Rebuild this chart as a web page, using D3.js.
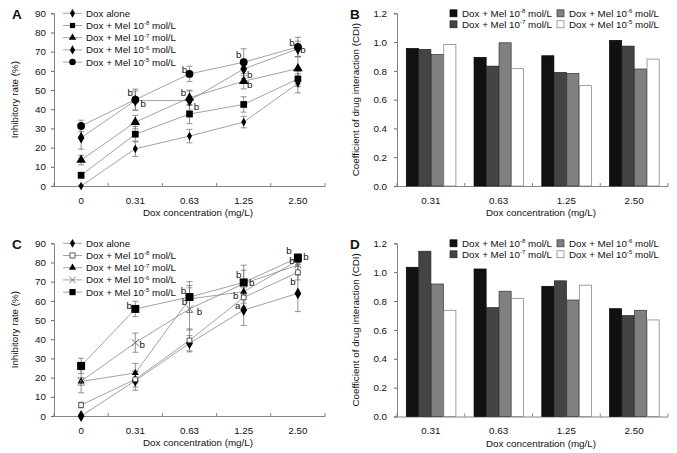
<!DOCTYPE html>
<html><head><meta charset="utf-8">
<script src="https://cdn.jsdelivr.net/npm/d3@7"></script>
<style>body{margin:0;background:#fff}svg{display:block;font-family:"Liberation Sans",Arial,sans-serif}</style>
</head><body><svg id="c" width="677" height="453"></svg>
<script>
// ---------- DATA ----------
const doseCats = ["0", "0.31", "0.63", "1.25", "2.50"];
const cdiCats = ["0.31", "0.63", "1.25", "2.50"];
const seriesLabels = ["Dox alone", "-8", "-7", "-6", "-5"]; // Mel exponents
const cdiSeries = ["-8", "-7", "-6", "-5"];

// Panel A: inhibitory rate (%)
const aDoxAlone = [0, 19.4, 26, 33.3, 53.5];
const aMel8 = [5.6, 27, 37.5, 42.5, 55.8];
const aMel7 = [13.5, 33.3, 46, 54.6, 61.2];
const aMel6 = [25.2, 44.5, 44.5, 61, 71.5];
const aMel5 = [31.3, 45, 58.4, 64.5, 72.5];
const aErrDoxAlone = [0.5, 4, 3.5, 3, 5];
const aErrMel8 = [1.5, 4, 5, 4, 4];
const aErrMel7 = [2.5, 3.5, 4, 4, 6];
const aErrMel6 = [6, 5, 5, 5, 4];
const aErrMel5 = [3, 5.5, 4, 7, 5];
const aNotes = [[1,48.4,-5,"b"],[1,42.4,8,"b"],[2,60.2,-5,"b"],[2,48.4,-6,"b"],[2,41.2,7,"b"],[3,68.2,-5,"b"],[3,57.8,6,"b"],[3,52.4,6,"b"],[4,74.2,-6,"b"],[4,70.8,5,"b"]];

// Panel C
const cDoxAlone = [0, 18.4, 37.9, 55.2, 63.9];
const cMel8 = [5.7, 19.1, 39.4, 61.8, 74.9];
const cMel7 = [18, 22.4, 61, 64.8, 81];
const cMel6 = [18.1, 38.2, 55.8, 69, 78.7];
const cMel5 = [26.1, 55.8, 62, 69.6, 82.5];
const cErrDoxAlone = [0.5, 5, 4, 8, 9.5];
const cErrMel8 = [1.5, 4, 6, 5, 4];
const cErrMel7 = [2, 5, 7, 6, 3];
const cErrMel6 = [6, 5, 11, 7, 4];
const cErrMel5 = [4, 4, 8, 9, 2];
const cNotes = [[1,56.9,-6,"b"],[1,37,7,"b"],[2,65.1,-6,"b"],[2,59,-5,"b"],[2,53.8,10,"b"],[3,73.4,-5,"b"],[3,69.1,8,"b"],[3,62.5,-8,"b"],[3,56.9,-6,"a"],[4,85.6,-9,"b"],[4,82.7,8,"b"],[4,80.4,-6,"b"],[4,69.5,-5,"b"]];

// Panel B / D: coefficient of drug interaction
const bMel8 = [0.956, 0.894, 0.905, 1.012];
const bMel7 = [0.949, 0.833, 0.789, 0.972];
const bMel6 = [0.914, 0.995, 0.782, 0.813];
const bMel5 = [0.984, 0.815, 0.697, 0.882];
const dMel8 = [1.034, 1.022, 0.902, 0.747];
const dMel7 = [1.145, 0.754, 0.94, 0.699];
const dMel6 = [0.918, 0.868, 0.807, 0.736];
const dMel5 = [0.736, 0.819, 0.91, 0.669];

const lineTicks = [0,10,20,30,40,50,60,70,80,90];
const barTicks = [0,0.2,0.4,0.6,0.8,1.0,1.2];

// ---------- DRAW ----------
const svg = d3.select("#c");
const FS = 9.8;
const axisCol = "#666";
const txtCol = "#111";

function addLabel(sel, exp) {
  if (exp === "Dox alone") { sel.text("Dox alone"); return; }
  sel.append("tspan").text("Dox + Mel 10");
  sel.append("tspan").attr("font-size", 6).attr("dy", -3.5).text(exp);
  sel.append("tspan").attr("dy", 3.5).text(" mol/L");
}

function markerPath(type, k) {
  k = k || 1;
  const s = d3.symbol();
  switch (type) {
    case "dsmall": return s.type(d3.symbolDiamond).size(22 * k)();
    case "diamond": return s.type(d3.symbolDiamond).size(40 * k)();
    case "square": return s.type(d3.symbolSquare).size(45 * k)();
    case "bigsquare": return s.type(d3.symbolSquare).size(64 * k)();
    case "osquare": return s.type(d3.symbolSquare).size(22 * k)();
    case "triangle": return s.type(d3.symbolTriangle).size(40 * k)();
    case "tsmall": return s.type(d3.symbolTriangle).size(22 * k)();
    case "circle": return s.type(d3.symbolCircle).size(48 * k)();
    case "x": { const r = 3.5 * Math.sqrt(k); return `M${-r},${-r}L${r},${r}M${-r},${r}L${r},${-r}`; }
  }
}
function markerStyle(sel, type) {
  if (type === "osquare") sel.attr("fill", "#fff").attr("stroke", "#333").attr("stroke-width", 0.8);
  else if (type === "x") sel.attr("fill", "none").attr("stroke", "#666").attr("stroke-width", 0.9);
  else sel.attr("fill", "#000");
}

function styleAxis(a) {
  a.select(".domain").attr("stroke", axisCol).attr("stroke-width", 0.8);
  a.selectAll(".tick line").attr("stroke", axisCol);
  a.selectAll("text").attr("font-size", FS).attr("font-family", "Liberation Sans, Arial").attr("fill", txtCol);
}

function linePanel(cfg) {
  const x = d3.scaleBand().domain(doseCats).range([cfg.left, cfg.right]);
  const y = d3.scaleLinear().domain([0, 90]).range([cfg.bottom, cfg.top]);
  const cx = c => x(c) + x.bandwidth() / 2;
  const g = svg.append("g");
  const ya = g.append("g").attr("transform", `translate(${cfg.left},0)`)
    .call(d3.axisLeft(y).tickValues(lineTicks).tickSize(3).tickPadding(5));
  const xa = g.append("g").attr("transform", `translate(0,${cfg.bottom})`)
    .call(d3.axisBottom(x).tickSize(0).tickPadding(11));
  styleAxis(ya); styleAxis(xa);
  const bounds = doseCats.map(c => x(c)).concat([cfg.right]);
  g.selectAll(".bt").data(bounds).join("line")
    .attr("x1", d => d).attr("x2", d => d).attr("y1", cfg.bottom).attr("y2", cfg.bottom - 3)
    .attr("stroke", axisCol).attr("stroke-width", 0.8);
  cfg.series.forEach(s => {
    const pts = s.vals.map((v, i) => [cx(doseCats[i]), y(v)]);
    g.append("path").attr("d", d3.line()(pts)).attr("fill", "none").attr("stroke", "#8a8a8a").attr("stroke-width", 0.8);
  });
  cfg.series.forEach(s => {
    s.vals.forEach((v, i) => {
      const X = cx(doseCats[i]), e = s.err[i];
      const y1 = y(v + e), y2 = y(Math.max(0, v - e));
      g.append("line").attr("x1", X).attr("x2", X).attr("y1", y1).attr("y2", y2).attr("stroke", "#777").attr("stroke-width", 0.8);
      [y1, y2].forEach(yy => g.append("line").attr("x1", X - 3).attr("x2", X + 3).attr("y1", yy).attr("y2", yy).attr("stroke", "#777").attr("stroke-width", 0.8));
    });
  });
  cfg.series.forEach(s => {
    s.vals.forEach((v, i) => {
      g.append("path").attr("d", markerPath(s.m)).attr("transform", `translate(${cx(doseCats[i])},${y(v)})`).call(markerStyle, s.m);
    });
  });
  cfg.notes.forEach(n => {
    g.append("text").attr("x", cx(doseCats[n[0]]) + n[2]).attr("y", y(n[1]))
      .attr("text-anchor", "middle").attr("dominant-baseline", "middle")
      .attr("font-size", FS).attr("fill", txtCol).text(n[3]);
  });
  cfg.series.forEach((s, i) => {
    const ly = cfg.top + i * 12.2;
    g.append("line").attr("x1", 63).attr("x2", 82).attr("y1", ly).attr("y2", ly).attr("stroke", "#8a8a8a").attr("stroke-width", 0.8);
    g.append("path").attr("d", markerPath(s.m, s.lk || 1)).attr("transform", `translate(72.5,${ly})`).call(markerStyle, s.m);
    g.append("text").attr("x", 86).attr("y", ly).attr("dy", "0.35em").attr("font-size", FS).attr("fill", txtCol).call(addLabel, s.label);
  });
  g.append("text").attr("x", 198).attr("y", cfg.bottom + 27).attr("dy", "0.35em").attr("text-anchor", "middle")
    .attr("font-size", FS).attr("fill", txtCol).text("Dox concentration (mg/L)");
  g.append("text").attr("transform", `translate(15,${(cfg.top + cfg.bottom) / 2}) rotate(-90)`).attr("dy", "0.35em")
    .attr("text-anchor", "middle").attr("font-size", FS).attr("fill", txtCol).text("Inhibitory rate (%)");
  g.append("text").attr("x", 12).attr("y", cfg.top + 6).attr("font-size", 13.5).attr("font-weight", "bold").attr("fill", txtCol).text(cfg.letter);
}

const barFill = ["#111", "#444", "#808080", "#fff"];
const barStroke = ["#000", "#222", "#333", "#777"];
function barPanel(cfg) {
  const x0 = d3.scaleBand().domain(cdiCats).range([cfg.left, cfg.right]);
  const x1 = d3.scaleBand().domain(cdiSeries).range([8.9, 58.9]);
  const y = d3.scaleLinear().domain([0, 1.2]).range([cfg.bottom, cfg.top]);
  const g = svg.append("g");
  const ya = g.append("g").attr("transform", `translate(${cfg.left},0)`)
    .call(d3.axisLeft(y).tickValues(barTicks).tickFormat(d3.format(".1f")).tickSize(3).tickPadding(7));
  const xa = g.append("g").attr("transform", `translate(0,${cfg.bottom})`)
    .call(d3.axisBottom(x0).tickSize(0).tickPadding(11));
  styleAxis(ya); styleAxis(xa);
  const bounds = cdiCats.map(c => x0(c)).concat([cfg.right]);
  g.selectAll(".bt").data(bounds).join("line")
    .attr("x1", d => d).attr("x2", d => d).attr("y1", cfg.bottom).attr("y2", cfg.bottom - 3)
    .attr("stroke", axisCol).attr("stroke-width", 0.8);
  cfg.vals.forEach((vals, si) => {
    vals.forEach((v, ci) => {
      g.append("rect").attr("x", x0(cdiCats[ci]) + x1(cdiSeries[si]) + 0.4).attr("width", x1.bandwidth() - 0.4)
        .attr("y", y(v)).attr("height", cfg.bottom - y(v))
        .attr("fill", barFill[si]).attr("stroke", barStroke[si]).attr("stroke-width", 0.7);
    });
  });
  // legend: column 0 = -8 / -7, column 1 = -6 / -5
  cdiSeries.forEach((s, si) => {
    const c = si < 2 ? 0 : 1, r = si % 2;
    const lx = c === 0 ? 450 : 557;
    const ly = cfg.top + r * 11;
    g.append("rect").attr("x", lx).attr("y", ly - 3.5).attr("width", 7).attr("height", 7)
      .attr("fill", barFill[si]).attr("stroke", barStroke[si]).attr("stroke-width", 0.7);
    g.append("text").attr("x", lx + 12).attr("y", ly).attr("dy", "0.35em").attr("font-size", FS).attr("fill", txtCol).call(addLabel, s);
  });
  g.append("text").attr("x", 541).attr("y", cfg.bottom + 27).attr("dy", "0.35em").attr("text-anchor", "middle")
    .attr("font-size", FS).attr("fill", txtCol).text("Dox concentration (mg/L)");
  g.append("text").attr("transform", `translate(356,${(cfg.top + cfg.bottom) / 2}) rotate(-90)`).attr("dy", "0.35em")
    .attr("text-anchor", "middle").attr("font-size", FS).attr("fill", txtCol).text("Coefficient of drug interaction (CDI)");
  g.append("text").attr("x", 350).attr("y", cfg.top + 6).attr("font-size", 13.5).attr("font-weight", "bold").attr("fill", txtCol).text(cfg.letter);
}

linePanel({letter: "A", left: 54, right: 325, top: 13.3, bottom: 186, notes: aNotes, series: [
  {label: "Dox alone", vals: aDoxAlone, err: aErrDoxAlone, m: "dsmall"},
  {label: "-8", vals: aMel8, err: aErrMel8, m: "square", lk: 0.6},
  {label: "-7", vals: aMel7, err: aErrMel7, m: "triangle", lk: 0.6},
  {label: "-6", vals: aMel6, err: aErrMel6, m: "diamond", lk: 0.6},
  {label: "-5", vals: aMel5, err: aErrMel5, m: "circle", lk: 0.7}]});
linePanel({letter: "C", left: 54, right: 325, top: 243.3, bottom: 416, notes: cNotes, series: [
  {label: "Dox alone", vals: cDoxAlone, err: cErrDoxAlone, m: "diamond", lk: 0.55},
  {label: "-8", vals: cMel8, err: cErrMel8, m: "osquare", lk: 1.2},
  {label: "-7", vals: cMel7, err: cErrMel7, m: "tsmall"},
  {label: "-6", vals: cMel6, err: cErrMel6, m: "x", lk: 0.8},
  {label: "-5", vals: cMel5, err: cErrMel5, m: "bigsquare", lk: 0.6}]});
barPanel({letter: "B", left: 397, right: 668, top: 13.3, bottom: 186, vals: [bMel8, bMel7, bMel6, bMel5]});
barPanel({letter: "D", left: 397, right: 668, top: 243.3, bottom: 416.5, vals: [dMel8, dMel7, dMel6, dMel5]});
</script></body></html>
